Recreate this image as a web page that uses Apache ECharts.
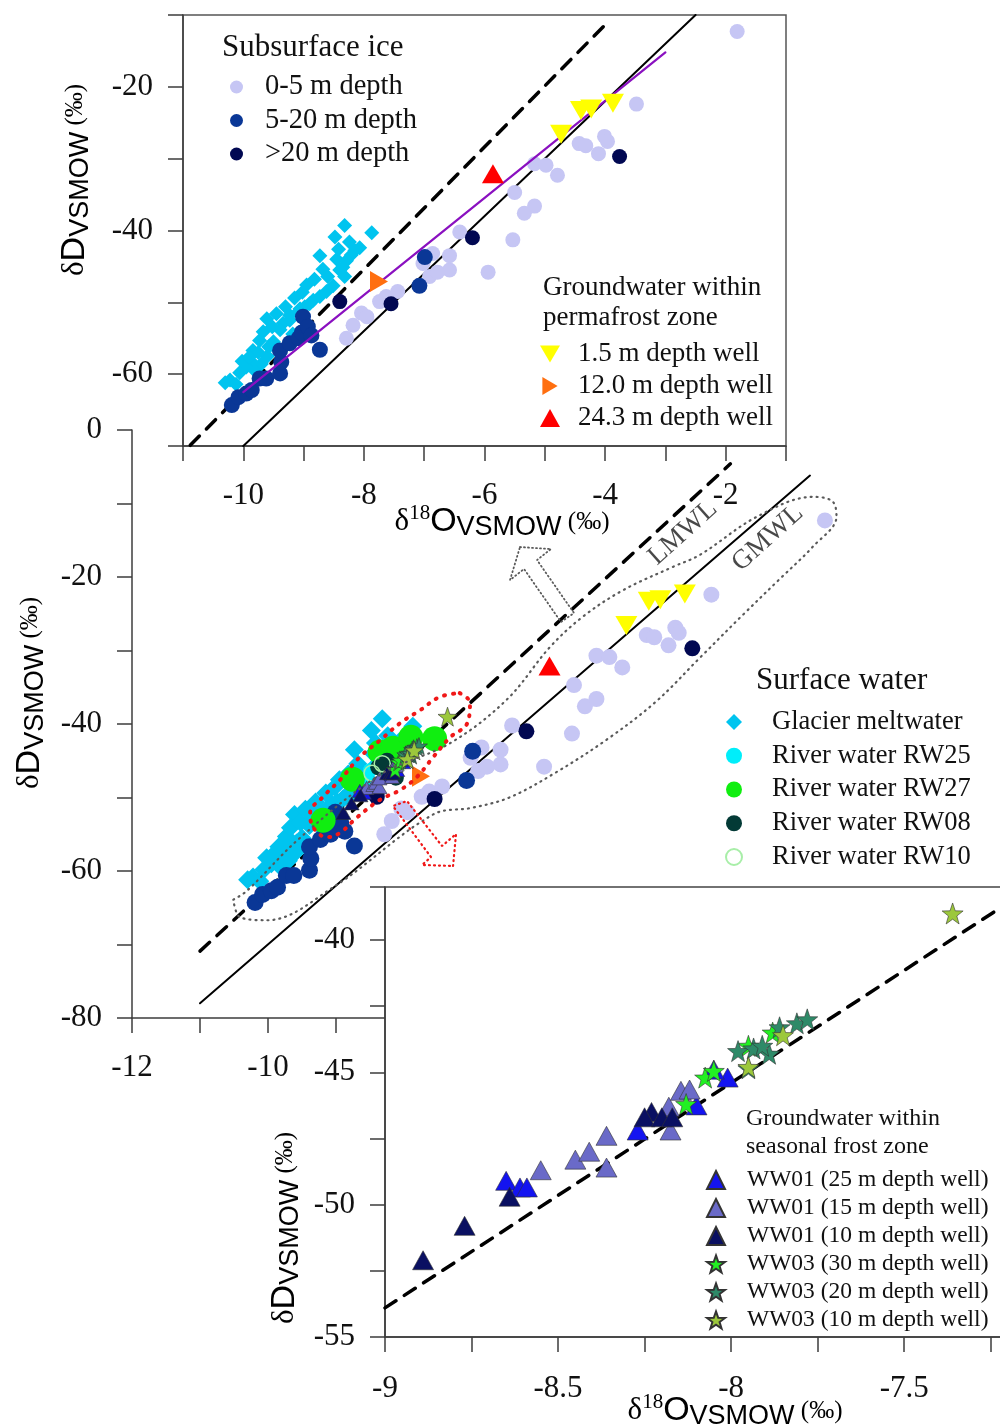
<!DOCTYPE html>
<html>
<head>
<meta charset="utf-8">
<script src="https://cdn.jsdelivr.net/npm/echarts@6.0.0/dist/echarts.min.js"></script>
<style>
html,body{margin:0;padding:0;background:#fff}
#main{width:1000px;height:1428px}
</style>
</head>
<body>
<div id="main"></div>
<script>
// values (δ18O, δD), per-mil VSMOW

// subsurface ice
var ice0to5 = [[-8.29,-55.0],[-8.18,-53.2],[-8.04,-51.5],[-7.95,-52.0],[-7.74,-49.9],[-7.63,-49.2],[-7.44,-48.5],
  [-7.02,-44.6],[-6.91,-46.4],[-6.86,-43.2],[-6.58,-45.5],[-6.58,-43.5],[-6.78,-45.8],[-6.41,-40.2],[-5.94,-45.8],
  [-5.53,-41.3],[-5.34,-37.6],[-5.17,-36.6],[-5.50,-34.7],[-5.17,-30.7],[-4.98,-30.9],[-4.79,-32.3],[-4.43,-27.9],
  [-4.32,-28.2],[-4.11,-29.3],[-4.01,-26.9],[-3.96,-27.6],[-3.48,-22.4],[-1.81,-12.3]];
var ice5to20 = [[-10.19,-64.3],[-10.08,-63.2],[-9.95,-62.7],[-9.86,-62.2],[-9.73,-60.6],[-9.62,-60.6],[-9.39,-59.9],
  [-9.37,-58.3],[-9.39,-56.7],[-9.23,-55.7],[-9.08,-55.0],[-9.03,-54.2],[-9.01,-52.0],[-8.93,-53.4],[-8.87,-54.6],
  [-8.73,-56.6],[-7.08,-47.7],[-6.99,-43.7]];
var iceOver20 = [[-8.40,-49.9],[-7.55,-50.2],[-6.20,-41.0],[-3.76,-29.7]];

// glacier meltwater
var glacier = [[-8.32,-39.3],[-8.48,-40.9],[-7.87,-40.3],[-8.73,-43.5],[-8.07,-42.4],[-8.21,-43.4],[-8.29,-44.2],
  [-8.35,-45.1],[-8.32,-46.4],[-8.51,-47.7],[-8.62,-48.5],[-8.73,-49.2],[-8.84,-49.7],[-8.90,-50.2],[-8.98,-50.6],
  [-9.09,-51.3],[-9.23,-51.8],[-9.34,-52.9],[-9.39,-53.8],[-9.61,-52.3],[-9.73,-55.3],[-9.67,-54.1],[-9.84,-56.7],
  [-9.86,-58.3],[-9.95,-59.0],[-10.06,-59.8],[-10.22,-60.8],[-10.30,-61.2],[-9.23,-52.5],[-9.06,-50.9],[-8.40,-45.5],
  [-8.45,-44.0],[-8.15,-42.8],[-9.50,-55.5],[-9.45,-56.5],[-9.60,-57.5],[-9.75,-57.0],
  [-9.52,-53.4],[-9.30,-50.6],[-9.02,-48.6],[-8.82,-46.8],[-9.18,-54.4],[-9.70,-58.6],[-10.02,-58.2],[-9.90,-57.6],
  [-9.45,-51.6],[-8.60,-46.4],[-8.95,-47.6],[-9.15,-49.4],[-9.58,-56.2],[-10.12,-61.4],[-9.80,-59.6],[-8.68,-45.4],
  [-8.42,-42.6],[-8.24,-41.6]];

// river water
var rw25 = [[-8.50,-46.3],[-8.45,-49.6],[-8.55,-47.5]];
var rw27 = [[-9.19,-53.1],[-8.76,-47.5],[-8.35,-43.8],[-8.16,-43.3],[-7.90,-41.8],[-7.55,-42.0]];
var rw08 = [[-8.38,-45.9],[-8.12,-47.3],[-8.25,-45.0]];
var rw10 = [[-8.47,-46.7],[-8.32,-45.4]];

// groundwater, permafrost zone
var gw15 = [[-4.73,-26.6],[-4.40,-23.3],[-4.23,-23.1],[-3.87,-22.3]];
var gw120 = [[-7.75,-47.1]];
var gw243 = [[-5.86,-32.1]];

// groundwater, seasonal frost zone
var ww01d25 = [[-8.65,-49.1],[-8.61,-49.35],[-8.59,-49.35],[-8.27,-47.2],[-8.10,-46.25],[-8.01,-45.2],[-8.05,-44.9]];
var ww01d15 = [[-8.55,-48.7],[-8.45,-48.3],[-8.41,-48.0],[-8.36,-48.6],[-8.36,-47.4],[-8.18,-46.3],[-8.175,-47.2],
  [-8.145,-45.7],[-8.12,-45.65]];
var ww01d10 = [[-8.89,-52.1],[-8.77,-50.8],[-8.64,-49.7],[-8.23,-46.5],[-8.25,-46.7],[-8.20,-46.7],[-8.17,-46.7]];
var ww03d30 = [[-8.13,-46.2],[-8.075,-45.2],[-8.05,-44.95],[-7.95,-44.0],[-7.88,-43.5]];
var ww03d20 = [[-7.98,-44.2],[-7.935,-44.1],[-7.89,-44.3],[-7.86,-43.3],[-7.81,-43.15],[-7.78,-43.0],[-7.95,-44.85],[-7.91,-44.0]];
var ww03d10 = [[-7.36,-39.0],[-7.85,-43.6],[-7.95,-44.8]];

// meteoric water lines (end points as drawn in each panel)
var lmwlMain = [[-11.0,-70.9],[-3.2,-4.6]];
var gmwlMain = [[-11.0,-78.0],[-2.03,-6.2]];
var lmwlTop = [[-10.88,-69.9],[-3.98,-11.2]];
var gmwlTop = [[-10.0,-70.0],[-2.5,-10.0]];
var fitTop = [[-10.0,-62.5],[-3.0,-15.2]];
var lmwlLow = [[-9.0,-53.9],[-7.2,-38.6]];

// outlines and arrows drawn on the main panel (data coords)
var permafrostLoop = [[-10.51,-63.9],[-10.31,-62.7],[-9.53,-55.5],[-8.35,-46.9],[-7.32,-42.6],[-6.49,-36.7],[-5.85,-29.5],
  [-5.37,-25.4],[-4.78,-21.8],[-4.04,-18.6],[-3.65,-17.0],[-2.81,-11.8],[-1.99,-9.1],[-1.70,-9.7],[-1.64,-11.8],
  [-1.99,-15.9],[-2.5,-20.5],[-3.0,-25.0],[-3.65,-31.0],[-4.3,-37.0],[-5.0,-42.0],[-5.75,-46.5],[-6.45,-50.0],
  [-7.0,-51.4],[-7.57,-52.3],[-9.04,-62.2],[-10.01,-66.7],[-10.41,-66.3],[-10.51,-63.9]];
var seasonalLoop = [[-7.18,-35.8],[-7.03,-37.1],[-7.07,-39.9],[-7.32,-41.8],[-7.57,-44.5],[-7.81,-47.2],[-8.06,-49.0],
  [-8.35,-50.3],[-8.69,-52.7],[-8.94,-54.8],[-9.13,-55.4],[-9.34,-54.0],[-9.38,-52.1],[-9.19,-49.9],[-8.94,-47.6],
  [-8.65,-44.5],[-8.35,-42.2],[-8.06,-39.9],[-7.76,-38.1],[-7.47,-36.3],[-7.18,-35.8]];
var arrowUp = [[-6.294,-15.92],[-5.838,-16.19],[-6.044,-17.69],[-5.500,-24.90],[-5.691,-26.12],[-6.235,-18.91],
  [-6.441,-20.41],[-6.294,-15.92]];
var arrowDown = [[-7.279,-59.32],[-7.235,-54.97],[-7.441,-56.60],[-7.956,-50.48],[-8.162,-51.16],[-7.603,-58.10],
  [-7.735,-59.18],[-7.279,-59.32]];

var lineLabels = [{name: 'LMWL', value: [-3.90, -14.0]}, {name: 'GMWL', value: [-2.65, -14.7]}];

var SERIF = 'Liberation Serif';
var SANS = 'Liberation Sans';
var STAR = 'path://M50,0L61.8,33.8L97.6,34.5L69,56.2L79.4,90.5L50,70L20.6,90.5L31,56.2L2.4,34.5L38.2,33.8Z';
var DOWN = 'path://M0,0L20,0L10,17Z';
var RIGHT = 'path://M0,0L17,10L0,20Z';

var C = {
  ice0: '#c6c6f4', ice5: '#0a3796', ice20: '#010852', glacier: '#00c4ef',
  rw25: '#00eefa', rw27: '#10ee10', rw08: '#033a36', rw10: '#a8eea8',
  gw15: '#ffff00', gw120: '#ff6f10', gw243: '#ff0000',
  w25: '#1414f0', w15: '#6a6ac8', w10: '#0a1062', s30: '#22f022', s20: '#2e8a68', s10: '#9cc83c'
};

function sc(name, data, g, symbol, size, color, z, extra) {
  var s = {
    type: 'scatter', name: name, data: data,
    xAxisIndex: g, yAxisIndex: g,
    symbol: symbol, symbolSize: size,
    itemStyle: {color: color, opacity: 1},
    z: z, silent: true
  };
  if (extra) s.itemStyle = Object.assign(s.itemStyle, extra);
  return s;
}
function ln(data, g, color, width, type, z, smooth) {
  return {
    type: 'line', data: data, xAxisIndex: g, yAxisIndex: g,
    showSymbol: false, symbol: 'none', silent: true, smooth: smooth || false,
    lineStyle: {color: color, width: width, type: type, cap: 'round'},
    z: z
  };
}

var edge = {borderColor: '#333', borderWidth: 0.6};
var series = [
  // main panel
  ln(lmwlMain, 0, '#000', 3.5, [13, 10], 2),
  ln(gmwlMain, 0, '#000', 2, 'solid', 2),
  sc('Glacier meltwater', glacier, 0, 'diamond', 19, C.glacier, 2),
  sc('River water RW25', rw25, 0, 'circle', 14, C.rw25, 2),
  sc('0-5 m depth', ice0to5, 0, 'circle', 16, C.ice0, 2),
  sc('5-20 m depth', ice5to20, 0, 'circle', 17, C.ice5, 2),
  sc('>20 m depth', iceOver20, 0, 'circle', 16, C.ice20, 2),
  sc('River water RW27', rw27, 0, 'circle', 25, C.rw27, 2),
  sc('River water RW08', rw08, 0, 'circle', 16, C.rw08, 2),
  sc('River water RW10', rw10, 0, 'circle', 16, 'rgba(0,0,0,0)', 2, {borderColor: C.rw10, borderWidth: 1.5}),
  sc('1.5 m depth well', gw15, 0, DOWN, [22, 19], C.gw15, 2),
  sc('12.0 m depth well', gw120, 0, RIGHT, [18, 21], C.gw120, 2),
  sc('24.3 m depth well', gw243, 0, 'triangle', [22, 19], C.gw243, 2),
  sc('WW01 (25 m depth well)', ww01d25, 0, 'triangle', [15, 13], C.w25, 3, edge),
  sc('WW01 (15 m depth well)', ww01d15, 0, 'triangle', [15, 13], C.w15, 3, edge),
  sc('WW01 (10 m depth well)', ww01d10, 0, 'triangle', [15, 13], C.w10, 3, edge),
  sc('WW03 (30 m depth well)', ww03d30, 0, STAR, 17, C.s30, 3, edge),
  sc('WW03 (20 m depth well)', ww03d20, 0, STAR, 17, C.s20, 3, edge),
  sc('WW03 (10 m depth well)', ww03d10, 0, STAR, 19, C.s10, 3, edge),
  ln(permafrostLoop, 0, '#5a5a5a', 2.2, [1, 5], 4, 0.35),
  ln(seasonalLoop, 0, '#f01818', 4, [1, 8], 4, 0.4),
  ln(arrowUp, 0, '#5a5a5a', 1.8, [1, 3], 4),
  ln(arrowDown, 0, '#f01818', 2.2, [1, 4], 4),
  {
    type: 'scatter', data: lineLabels, xAxisIndex: 0, yAxisIndex: 0, symbolSize: 0, silent: true, z: 4,
    label: {show: true, position: 'inside', formatter: '{b}', rotate: 42,
      fontFamily: SERIF, fontSize: 27, color: '#1a1a1a'}
  },

  // upper inset
  ln(lmwlTop, 1, '#000', 3.5, [13, 10], 8),
  ln(gmwlTop, 1, '#000', 2, 'solid', 8),
  sc('Glacier meltwater', glacier, 1, 'diamond', 15, C.glacier, 8),
  sc('0-5 m depth', ice0to5, 1, 'circle', 15, C.ice0, 8),
  sc('5-20 m depth', ice5to20, 1, 'circle', 16, C.ice5, 8),
  sc('>20 m depth', iceOver20, 1, 'circle', 15, C.ice20, 8),
  ln(fitTop, 1, '#8a10c0', 2.2, 'solid', 9),
  sc('1.5 m depth well', gw15, 1, DOWN, [22, 19], C.gw15, 9),
  sc('12.0 m depth well', gw120, 1, RIGHT, [18, 21], C.gw120, 9),
  sc('24.3 m depth well', gw243, 1, 'triangle', [22, 19], C.gw243, 9),

  // lower inset
  ln(lmwlLow, 2, '#000', 3.5, [13, 10], 8),
  sc('WW01 (25 m depth well)', ww01d25, 2, 'triangle', [21, 19], C.w25, 9, edge),
  sc('WW01 (15 m depth well)', ww01d15, 2, 'triangle', [21, 19], C.w15, 9, edge),
  sc('WW01 (10 m depth well)', ww01d10, 2, 'triangle', [21, 19], C.w10, 9, edge),
  sc('WW03 (30 m depth well)', ww03d30, 2, STAR, 21, C.s30, 9, edge),
  sc('WW03 (20 m depth well)', ww03d20, 2, STAR, 21, C.s20, 9, edge),
  sc('WW03 (10 m depth well)', ww03d10, 2, STAR, 21, C.s10, 9, edge)
];

var axisCol = '#3c3c3c';
function axis(min, max, step, show, z) {
  return {
    type: 'value', min: min, max: max, interval: step, z: z,
    axisLine: {show: true, onZero: false, lineStyle: {color: axisCol, width: 1.5}},
    axisTick: {show: true, inside: false, length: 15, lineStyle: {color: axisCol, width: 1.5}},
    splitLine: {show: false},
    axisLabel: {
      show: true, fontFamily: SERIF, fontSize: 31, color: '#111',
      formatter: function (v) { return show(v) ? String(v) : ''; }
    }
  };
}
function even(v) { return Math.abs(v % 2) < 1e-6; }
function half(v) { return Math.abs(v * 2 - Math.round(v * 2)) < 1e-6; }
function fives(v) { return Math.abs(v / 5 - Math.round(v / 5)) < 1e-6; }

var xMain = axis(-12, 0, 1, even, 0); xMain.axisLabel.margin = 34;
var yMain = axis(-80, 0, 10, function (v) { return v % 20 === 0; }, 0); yMain.axisLabel.margin = 30;
var xTop = axis(-11, -1, 1, even, 6); xTop.axisLabel.margin = 34;
var yTop = axis(-70, -10, 10, function (v) { return v % 20 === 0; }, 6); yTop.axisLabel.margin = 30;
var xLow = axis(-9, -7.2, 0.25, half, 6); xLow.axisLabel.margin = 36;
var yLow = axis(-55, -38, 2.5, function (v) { return fives(v); }, 6); yLow.axisLabel.margin = 30;

xMain.gridIndex = 0; yMain.gridIndex = 0;
xTop.gridIndex = 1; yTop.gridIndex = 1;
xLow.gridIndex = 2; yLow.gridIndex = 2;

function legendBlock(names, left, top, font, lh, gap, pad, iw, ih) {
  return {
    data: names, orient: 'vertical', left: left, top: top, padding: 0,
    itemWidth: iw, itemHeight: ih, itemGap: gap, selectedMode: false, z: 20,
    textStyle: {fontFamily: SERIF, fontSize: font, lineHeight: lh, color: '#111', padding: [0, 0, 0, pad]}
  };
}
function heading(text, left, top, size, lh) {
  return {
    text: text, left: left, top: top, padding: 0, z: 20,
    textStyle: {fontFamily: SERIF, fontSize: size, lineHeight: lh, fontWeight: 'normal', color: '#111'}
  };
}

var yRich = {
  a: {fontFamily: SERIF, fontSize: 31, color: '#111'},
  b: {fontFamily: SANS, fontSize: 34, color: '#111'},
  c: {fontFamily: SANS, fontSize: 27, color: '#111', verticalAlign: 'bottom', lineHeight: 38},
  d: {fontFamily: SERIF, fontSize: 25, color: '#111'}
};
var xRich = {
  a: {fontFamily: SERIF, fontSize: 31, color: '#111'},
  s: {fontFamily: SERIF, fontSize: 21, color: '#111', verticalAlign: 'top', lineHeight: 38},
  b: {fontFamily: SANS, fontSize: 34, color: '#111'},
  c: {fontFamily: SANS, fontSize: 27, color: '#111', verticalAlign: 'bottom', lineHeight: 38},
  d: {fontFamily: SERIF, fontSize: 25, color: '#111'}
};
var yName = '{a|δ}{b|D}{c|VSMOW}{d| (‰)}';
var xName = '{a|δ}{s|18}{b|O}{c|VSMOW}{d| (‰)}';
function nameText(x, y, rot, text, rich) {
  return {type: 'text', x: x, y: y, rotation: rot, z: 30, silent: true,
    style: {text: text, rich: rich, align: 'center', verticalAlign: 'middle'}};
}

var option = {
  animation: false,
  backgroundColor: '#fff',
  grid: [
    {left: 132, top: 430, width: 816, height: 588, containLabel: false, outerBoundsMode: 'none'},
    {left: 183, top: 15, width: 603, height: 431, containLabel: false, outerBoundsMode: 'none',
      show: true, backgroundColor: '#fff', borderColor: '#555', borderWidth: 1.5, z: 5},
    {left: 385, top: 887, width: 623, height: 450, containLabel: false, outerBoundsMode: 'none',
      show: true, backgroundColor: '#fff', borderColor: '#444', borderWidth: 1.5, z: 5}
  ],
  xAxis: [xMain, xTop, xLow],
  yAxis: [yMain, yTop, yLow],
  title: [
    heading('Subsurface ice', 222, 31, 31, 34),
    heading('Groundwater within\npermafrost zone', 543, 273, 27, 30),
    heading('Surface water', 756, 664, 31, 34),
    heading('Groundwater within\nseasonal frost zone', 746, 1105, 24, 28)
  ],
  legend: [
    legendBlock(['0-5 m depth', '5-20 m depth', '>20 m depth'], 230, 72, 28.5, 30, 3.5, 17, 13, 13),
    legendBlock(['1.5 m depth well', '12.0 m depth well', '24.3 m depth well'], 540, 340, 27, 28, 4, 13, 20, 18),
    legendBlock(['Glacier meltwater', 'River water RW25', 'River water RW27', 'River water RW08', 'River water RW10'],
      725, 708, 26.5, 28, 5.75, 25, 16, 16),
    legendBlock(['WW01 (25 m depth well)', 'WW01 (15 m depth well)', 'WW01 (10 m depth well)',
      'WW03 (30 m depth well)', 'WW03 (20 m depth well)', 'WW03 (10 m depth well)'],
      706, 1168, 23.5, 24, 4, 17, 18, 18)
  ],
  graphic: [
    nameText(30, 693, Math.PI / 2, yName, yRich),
    nameText(75, 180, Math.PI / 2, yName, yRich),
    nameText(285, 1228, Math.PI / 2, yName, yRich),
    nameText(502, 522, 0, xName, xRich),
    nameText(735, 1411, 0, xName, xRich)
  ],
  series: series
};

var chart = echarts.init(document.getElementById('main'), null, {renderer: 'canvas'});
chart.setOption(option);
</script>
</body>
</html>
